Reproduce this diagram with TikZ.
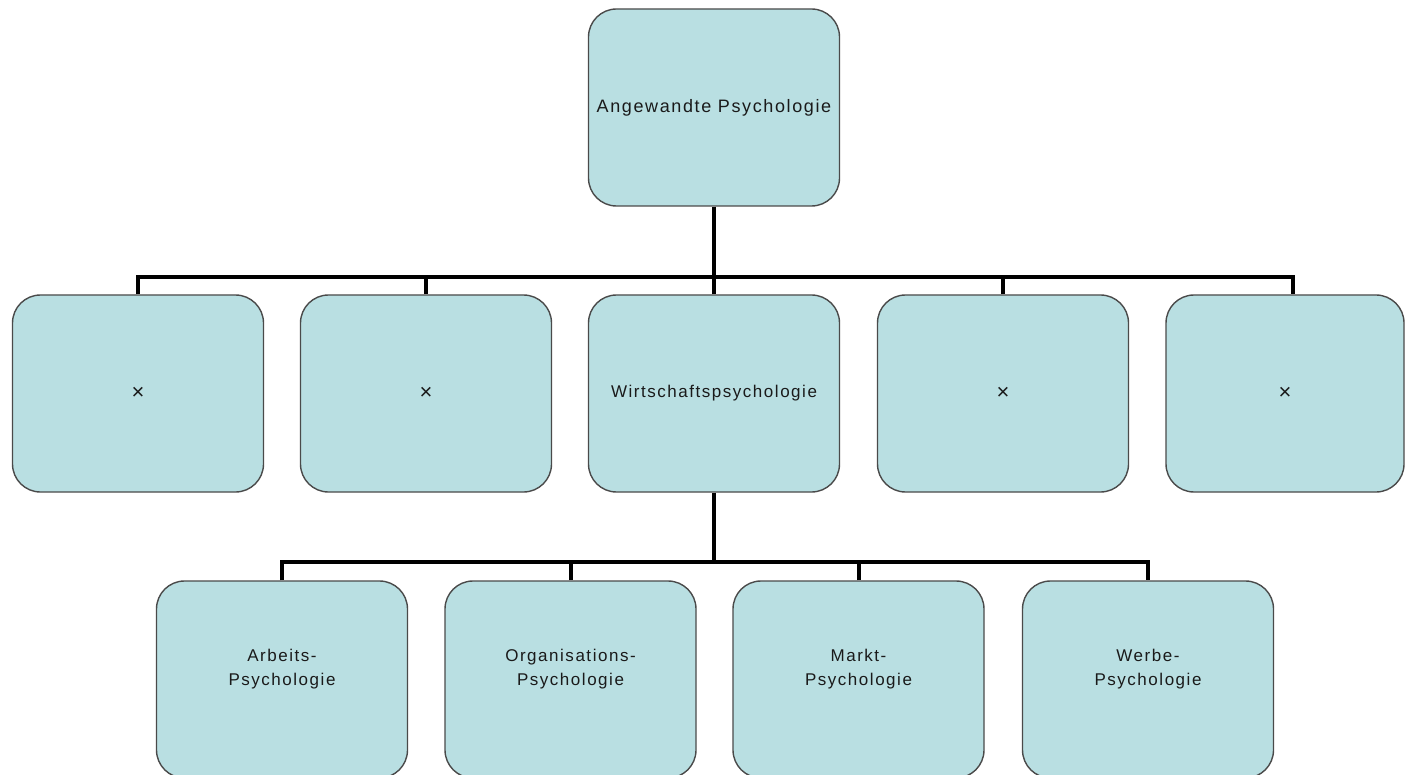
\documentclass[tikz,border=0pt]{standalone}
\usepackage{fontspec}
\setmainfont{Liberation Sans}[LetterSpace=9]
\definecolor{boxfill}{HTML}{B9DFE2}
\definecolor{boxline}{HTML}{4A4A4A}
\definecolor{txt}{HTML}{1A1A1A}
\newcommand{\liftxt}[1]{\raisebox{11pt}[\height][\depth]{\begin{tabular}{@{}c@{}}#1\end{tabular}}}
\begin{document}
\begin{tikzpicture}[x=1pt,y=-1pt,
  box/.style={draw=boxline, line width=1.4pt, fill=boxfill, rounded corners=28pt,
    minimum width=251pt, minimum height=197pt, inner sep=0pt, align=center,
    font=\fontsize{17}{24}\selectfont, text=txt},
  cross/.style={font=\fontsize{22}{24}\selectfont},
  conn/.style={line width=4pt, draw=black}]
\useasboundingbox (0,0) rectangle (1405,775);
\clip (0,0) rectangle (1405,775);
\fill[white] (0,0) rectangle (1405,775);

% top
\node[box, font=\fontsize{18}{24}\selectfont] (top) at (714,107.5) {Angewandte Psychologie};

% middle row
\node[box, cross] (m1) at (138,393.5) {×};
\node[box, cross] (m2) at (426,393.5) {×};
\node[box] (m3) at (714,393.5) {Wirtschaftspsychologie};
\node[box, cross] (m4) at (1003,393.5) {×};
\node[box, cross, minimum width=238pt] (m5) at (1285,393.5) {×};

% bottom row
\node[box] (u1) at (282,679.5) {\liftxt{Arbeits-\\Psychologie}};
\node[box] (u2) at (570.5,679.5) {\liftxt{Organisations-\\Psychologie}};
\node[box] (u3) at (858.5,679.5) {\liftxt{Markt-\\Psychologie}};
\node[box] (u4) at (1148,679.5) {\liftxt{Werbe-\\Psychologie}};

% connectors
\coordinate (bus1) at (714,277);
\coordinate (bus2) at (714,562);
\coordinate (m5top) at ([xshift=8pt]m5.north);

\draw[conn] (top.south) -- (bus1);
\draw[conn] (m1.north) |- (bus1) -| (m5top);
\draw[conn] (m2.north) -- (m2.north |- bus1);
\draw[conn] (m3.north) -- (m3.north |- bus1);
\draw[conn] (m4.north) -- (m4.north |- bus1);

\draw[conn] (m3.south) -- (bus2);
\draw[conn] (u1.north) |- (bus2) -| (u4.north);
\draw[conn] (u2.north) -- (u2.north |- bus2);
\draw[conn] (u3.north) -- (u3.north |- bus2);
\end{tikzpicture}
\end{document}
